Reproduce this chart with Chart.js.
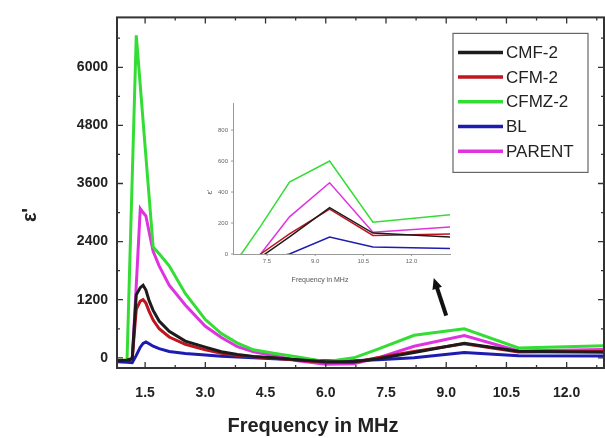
<!DOCTYPE html>
<html>
<head>
<meta charset="utf-8">
<script src="https://cdn.jsdelivr.net/npm/chart.js@4.4.1/dist/chart.umd.min.js"></script>
<style>
  html, body { margin: 0; padding: 0; background: #fff; }
  #wrap { position: relative; width: 605px; height: 438px; overflow: hidden; }
  #main { position: absolute; left: 0; top: 0; }
  #inset { position: absolute; left: 195px; top: 90px; }
</style>
</head>
<body>
<div id="wrap">
  <canvas id="main" width="605" height="438"></canvas>
  <canvas id="inset" width="265" height="200"></canvas>
</div>
<script>
const freq   = [0.8, 1.05, 1.18, 1.28, 1.38, 1.45, 1.52, 1.6, 1.7, 1.85, 2.1, 2.5, 3.0, 3.4, 3.8, 4.2, 4.7, 5.3, 6.0, 6.7, 7.3, 8.2, 9.45, 10.8, 13.25];
const cmf2   = [-60, -50, -20, 1300, 1450, 1500, 1400, 1180, 980, 760, 550, 345, 220, 125, 70, 30, 0, -40, -80, -80, -20, 110, 300, 135, 110];
const cfm2   = [-60, -50, -10, 1000, 1170, 1200, 1130, 960, 780, 600, 430, 280, 165, 95, 50, 20, -10, -50, -90, -90, 0, 130, 290, 120, 130];
const cfmz2  = [-60, -40, 3750, 6660, 5620, 4890, 4160, 3330, 2290, 2150, 1900, 1330, 790, 500, 305, 165, 95, 20, -80, 0, 180, 465, 600, 205, 255];
const bl     = [-80, -90, -100, 50, 220, 300, 330, 290, 240, 190, 130, 90, 60, 35, 15, 0, -20, -40, -60, -60, -40, 0, 110, 45, 35];
const parent = [-60, -50, -20, 1500, 3080, 3000, 2930, 2600, 2200, 1900, 1500, 1090, 650, 420, 230, 125, 50, -60, -130, -120, 0, 240, 460, 140, 175];

const seriesNames  = ['CMF-2', 'CFM-2', 'CFMZ-2', 'BL', 'PARENT'];
const seriesValues = [cmf2, cfm2, cfmz2, bl, parent];
const seriesColors = ['#1c1c1c', '#c0141e', '#33dd33', '#1c1cb0', '#e033e0'];

const mainXTicks  = [1.5, 3.0, 4.5, 6.0, 7.5, 9.0, 10.5, 12.0];
const mainYTicks  = [0, 1200, 2400, 3600, 4800, 6000];
const insetXTicks = [7.5, 9.0, 10.5, 12.0];
const insetYTicks = [0, 200, 400, 600, 800];

// arrow pointing from the hump to the inset (data coords)
const arrowFrom = { x: 9.0, y: 870 };
const arrowTo   = { x: 8.69, y: 1650 };

Chart.defaults.font.family = "'Liberation Sans', Arial, sans-serif";
Chart.defaults.color = '#222';

function makeDatasets(width) {
    return seriesNames.map((name, i) => ({
        label: name,
        data: freq.map((f, j) => ({ x: f, y: seriesValues[i][j] })),
        borderColor: seriesColors[i],
        backgroundColor: seriesColors[i],
        borderWidth: width,
        pointRadius: 0,
        tension: 0,
        fill: false
    }));
}

function fixedTicks(list) {
    return scale => { scale.ticks = list.map(v => ({ value: v })); };
}

const mainDecor = {
    id: 'mainDecor',
    afterDatasetsDraw(chart) {
        const { ctx, chartArea: a, scales } = chart;
        const xs = scales.x, ys = scales.y;
        ctx.save();

        // frame
        ctx.strokeStyle = '#333';
        ctx.lineWidth = 2;
        ctx.strokeRect(a.left, a.top, a.right - a.left, a.bottom - a.top);

        // inward ticks, major + minor, all four sides
        ctx.lineWidth = 1.3;
        ctx.beginPath();
        for (let v = 0.75; v <= xs.max; v += 0.75) {
            if (v < xs.min) continue;
            const px = xs.getPixelForValue(v);
            const len = Math.abs(v / 1.5 - Math.round(v / 1.5)) < 1e-6 ? 6 : 3;
            ctx.moveTo(px, a.bottom); ctx.lineTo(px, a.bottom - len);
            ctx.moveTo(px, a.top); ctx.lineTo(px, a.top + len);
        }
        for (let v = 0; v <= ys.max; v += 600) {
            const py = ys.getPixelForValue(v);
            const len = v % 1200 === 0 ? 6 : 3;
            ctx.moveTo(a.left, py); ctx.lineTo(a.left + len, py);
            ctx.moveTo(a.right, py); ctx.lineTo(a.right - len, py);
        }
        ctx.stroke();

        // arrow
        const x1 = xs.getPixelForValue(arrowFrom.x), y1 = ys.getPixelForValue(arrowFrom.y);
        const x2 = xs.getPixelForValue(arrowTo.x), y2 = ys.getPixelForValue(arrowTo.y);
        const ang = Math.atan2(y2 - y1, x2 - x1);
        ctx.strokeStyle = '#111';
        ctx.fillStyle = '#111';
        ctx.lineWidth = 4;
        ctx.beginPath();
        ctx.moveTo(x1, y1);
        ctx.lineTo(x2 - 6 * Math.cos(ang), y2 - 6 * Math.sin(ang));
        ctx.stroke();
        ctx.beginPath();
        ctx.moveTo(x2, y2);
        ctx.lineTo(x2 - 11 * Math.cos(ang) + 5 * Math.sin(ang), y2 - 11 * Math.sin(ang) - 5 * Math.cos(ang));
        ctx.lineTo(x2 - 11 * Math.cos(ang) - 5 * Math.sin(ang), y2 - 11 * Math.sin(ang) + 5 * Math.cos(ang));
        ctx.closePath();
        ctx.fill();

        // legend box
        const lx = a.right - 151, ly = a.top + 16;
        ctx.strokeStyle = '#666';
        ctx.lineWidth = 1.2;
        ctx.fillStyle = '#fff';
        ctx.fillRect(lx, ly, 135, 139);
        ctx.strokeRect(lx, ly, 135, 139);
        ctx.font = "17px 'Liberation Sans', Arial, sans-serif";
        ctx.textBaseline = 'middle';
        chart.data.datasets.forEach((ds, i) => {
            const ry = ly + 19 + i * 24.7;
            ctx.strokeStyle = ds.borderColor;
            ctx.lineWidth = 3.5;
            ctx.beginPath();
            ctx.moveTo(lx + 5, ry); ctx.lineTo(lx + 50, ry);
            ctx.stroke();
            ctx.fillStyle = '#222';
            ctx.fillText(ds.label, lx + 53, ry + 1);
        });

        // axis titles
        ctx.fillStyle = '#222';
        ctx.textAlign = 'center';
        ctx.textBaseline = 'alphabetic';
        ctx.font = "bold 20px 'Liberation Sans', Arial, sans-serif";
        ctx.fillText('Frequency in MHz', 313, 432);
        ctx.translate(36, 215);
        ctx.rotate(-Math.PI / 2);
        ctx.fillText("ε'", 0, 0);
        ctx.restore();
    }
};

new Chart(document.getElementById('main'), {
    type: 'line',
    data: { datasets: makeDatasets(3) },
    options: {
        responsive: false,
        animation: false,
        devicePixelRatio: 1,
        layout: { padding: { top: 17, right: 1, left: 0, bottom: 0 } },
        plugins: { legend: { display: false }, tooltip: { enabled: false } },
        scales: {
            x: {
                type: 'linear',
                min: 0.8,
                max: 12.93,
                afterFit: s => { s.height = 70; },
                afterBuildTicks: fixedTicks(mainXTicks),
                grid: { display: false, drawTicks: false },
                border: { display: false },
                ticks: {
                    autoSkip: false,
                    maxRotation: 0,
                    padding: 17,
                    font: { size: 14, weight: 'bold' },
                    callback: v => v.toFixed(1)
                }
            },
            y: {
                min: -210,
                max: 7030,
                afterFit: s => { s.width = 117; },
                afterBuildTicks: fixedTicks(mainYTicks),
                grid: { display: false, drawTicks: false },
                border: { display: false },
                ticks: {
                    autoSkip: false,
                    padding: 9,
                    font: { size: 14, weight: 'bold' },
                    callback: v => String(v)
                }
            }
        }
    },
    plugins: [mainDecor]
});

const insetDecor = {
    id: 'insetDecor',
    afterDatasetsDraw(chart) {
        const { ctx, chartArea: a, scales } = chart;
        ctx.save();
        ctx.strokeStyle = '#999';
        ctx.lineWidth = 1;
        ctx.beginPath();
        insetXTicks.forEach(v => {
            const px = scales.x.getPixelForValue(v);
            ctx.moveTo(px, a.bottom); ctx.lineTo(px, a.bottom + 2);
        });
        insetYTicks.forEach(v => {
            const py = scales.y.getPixelForValue(v);
            ctx.moveTo(a.left, py); ctx.lineTo(a.left - 2, py);
        });
        ctx.stroke();
        ctx.fillStyle = '#555';
        ctx.textAlign = 'center';
        ctx.font = "7px 'Liberation Sans', Arial, sans-serif";
        ctx.fillText('Frequency in MHz', 125, 192);
        ctx.translate(17, 102);
        ctx.rotate(-Math.PI / 2);
        ctx.font = "8px 'Liberation Sans', Arial, sans-serif";
        ctx.fillText("ε'", 0, 0);
        ctx.restore();
    }
};

new Chart(document.getElementById('inset'), {
    type: 'line',
    data: { datasets: makeDatasets(1.5) },
    options: {
        responsive: false,
        animation: false,
        devicePixelRatio: 1,
        layout: { padding: { top: 13, right: 10, left: 0, bottom: 0 } },
        plugins: { legend: { display: false }, tooltip: { enabled: false } },
        scales: {
            x: {
                type: 'linear',
                min: 6.44,
                max: 13.2,
                afterFit: s => { s.height = 36; },
                afterBuildTicks: fixedTicks(insetXTicks),
                grid: { display: false, drawTicks: false },
                border: { display: true, color: '#999', width: 1 },
                ticks: {
                    autoSkip: false,
                    maxRotation: 0,
                    padding: 4,
                    color: '#666',
                    font: { size: 6 },
                    callback: v => v.toFixed(1)
                }
            },
            y: {
                min: 0,
                max: 975,
                afterFit: s => { s.width = 38; },
                afterBuildTicks: fixedTicks(insetYTicks),
                grid: { display: false, drawTicks: false },
                border: { display: true, color: '#999', width: 1 },
                ticks: {
                    autoSkip: false,
                    padding: 5,
                    color: '#666',
                    font: { size: 6 },
                    callback: v => String(v)
                }
            }
        }
    },
    plugins: [insetDecor]
});
</script>
</body>
</html>
